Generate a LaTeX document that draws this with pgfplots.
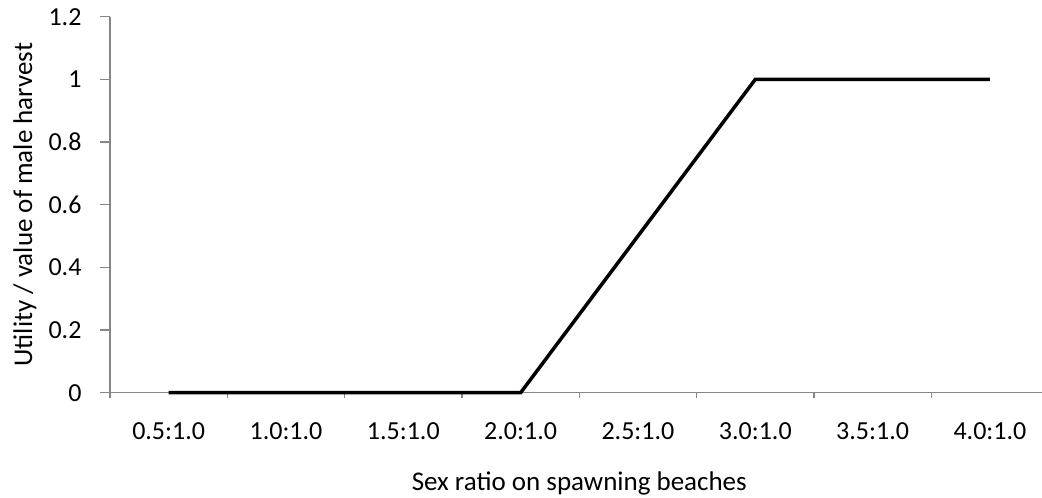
\documentclass[border=0pt]{standalone}
\usepackage{fontspec}
\setmainfont{Carlito}
\usepackage{pgfplots}
\pgfplotsset{compat=1.18}
\definecolor{axgray}{HTML}{868686}
\newcommand\tf{\fontsize{26pt}{30pt}\selectfont}
\newcommand\lf{\fontsize{27pt}{31pt}\selectfont}
\begin{document}
\begin{tikzpicture}
\begin{axis}[
  scale only axis,
  width=938.6pt, height=376pt,
  xmin=-0.5, xmax=7.5, ymin=0, ymax=1.2,
  axis lines*=left,
  axis line style={axgray, line width=1.2pt},
  xtick={0,...,7},
  xticklabels={0.5:1.0,1.0:1.0,1.5:1.0,2.0:1.0,2.5:1.0,3.0:1.0,3.5:1.0,4.0:1.0},
  minor xtick={-0.5,0.5,...,7.5},
  ytick={0,0.2,...,1.2},
  yticklabels={0,0.2,0.4,0.6,0.8,1,1.2},
  tick align=outside,
  major tick length=10pt,
  minor tick length=5pt,
  major x tick style={draw=none},
  every tick/.style={axgray, line width=1.2pt},
  /pgf/number format/assume math mode=true,
  xticklabel style={font=\tf, text=black, anchor=base, yshift=-37pt},
  yticklabel style={font=\tf, text=black, anchor=east, xshift=-15pt},
  xlabel={Sex ratio on spawning beaches},
  ylabel={Utility / value of male harvest},
  every axis x label/.style={at={(axis description cs:0.5,0)}, anchor=base, yshift=-97.3pt, font=\lf},
  every axis y label/.style={at={(axis description cs:-0.0906,0.5)}, rotate=90, anchor=center, font=\lf},
  clip=false,
]
\addplot[black, line width=3.5pt] coordinates {
  (0,0) (1,0) (2,0) (3,0) (4,0.5) (5,1) (6,1) (7,1)
};
\end{axis}
\pgfresetboundingbox
\useasboundingbox (-110pt,-105.3pt) rectangle (932pt,392.7pt);
\end{tikzpicture}
\end{document}
